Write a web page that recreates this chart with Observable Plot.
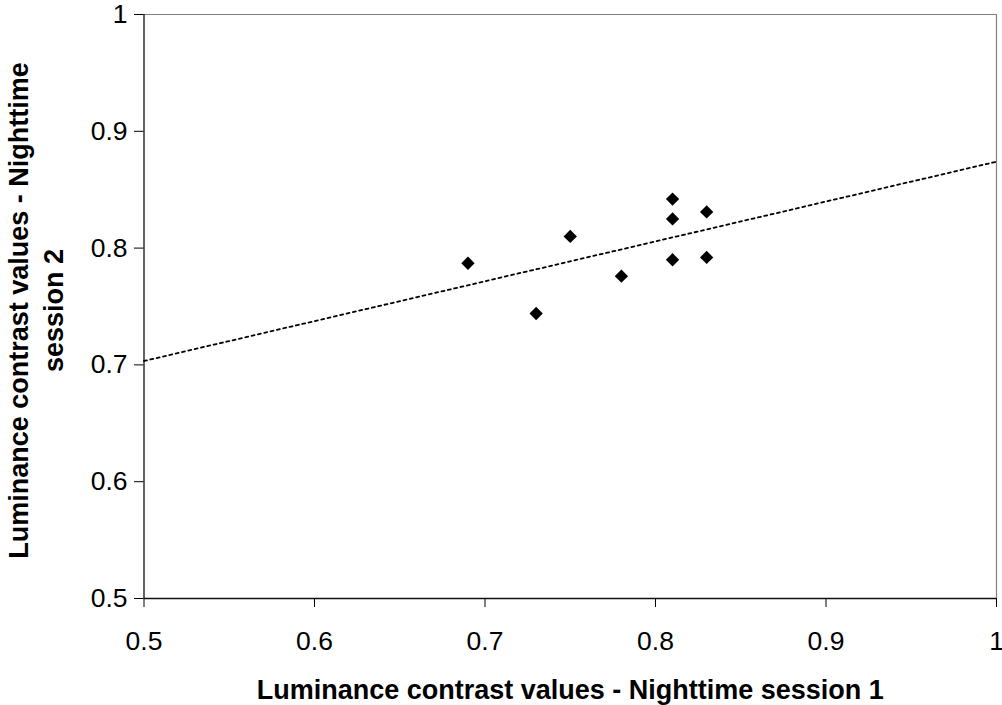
<!DOCTYPE html>
<html>
<head>
<meta charset="utf-8">
<script src="https://cdn.jsdelivr.net/npm/d3@7"></script>
<script src="https://cdn.jsdelivr.net/npm/@observablehq/plot@0.6"></script>
<style>
  html, body { margin: 0; padding: 0; background: #fff; }
  #chart svg { display: block; font-family: "Liberation Sans", Arial, sans-serif; }
</style>
</head>
<body>
<div id="chart"></div>
<script>
// Luminance contrast measured in two nighttime sessions
const session1 = [0.69, 0.73, 0.75, 0.78, 0.81, 0.81, 0.81, 0.83, 0.83];
const session2 = [0.787, 0.744, 0.81, 0.776, 0.842, 0.825, 0.79, 0.831, 0.792];

const xTicks = [0.5, 0.6, 0.7, 0.8, 0.9, 1];
const yTicks = [0.5, 0.6, 0.7, 0.8, 0.9, 1];
const axisDomain = [0.5, 1];

const xTitle = "Luminance contrast values - Nighttime session 1";
const yTitle = "Luminance contrast values - Nighttime\nsession 2";

const points = session1.map((x, i) => ({x, y: session2[i]}));

// Least-squares trend line, drawn across the whole x domain
const mx = d3.mean(session1), my = d3.mean(session2);
const slope = d3.sum(points, d => (d.x - mx) * (d.y - my)) /
              d3.sum(points, d => (d.x - mx) ** 2);
const trend = axisDomain.map(x => ({x, y: my + slope * (x - mx)}));

const fmt = d => (d === 1 ? "1" : d.toFixed(1));

const chart = Plot.plot({
  width: 1002,
  height: 705,
  marginLeft: 143.5,
  marginRight: 6,
  marginTop: 14,
  marginBottom: 107,
  x: {domain: axisDomain},
  y: {domain: axisDomain},
  marks: [
    // plot-area frame: grey top/right edges
    Plot.ruleY([1], {stroke: "#808080", strokeWidth: 1.2}),
    Plot.ruleX([1], {stroke: "#808080", strokeWidth: 1.2}),
    Plot.axisX({
      ticks: xTicks, tickFormat: fmt, tickSize: 9, tickPadding: 23.5,
      fontSize: 26.5, stroke: "#000", strokeOpacity: 1, color: "#000", label: null
    }),
    Plot.axisY({
      ticks: yTicks, tickFormat: fmt, tickSize: 9.5, tickPadding: 7,
      fontSize: 26.5, stroke: "#000", strokeOpacity: 1, color: "#000", label: null
    }),
    Plot.ruleX([0.5], {stroke: "#111", strokeWidth: 1.3}),
    Plot.ruleY([0.5], {stroke: "#111", strokeWidth: 1.3}),
    Plot.line(trend, {
      x: "x", y: "y", stroke: "#000", strokeWidth: 1.8, strokeDasharray: "3,3.5"
    }),
    Plot.dot(points, {
      x: "x", y: "y", symbol: "diamond2", r: 6, fill: "#000", stroke: "none"
    }),
    Plot.text([xTitle], {
      frameAnchor: "bottom", dy: 91.4, fontSize: 27, fontWeight: "bold",
      fill: "#000", lineAnchor: "middle", textAnchor: "middle"
    }),
    Plot.text([yTitle], {
      frameAnchor: "left", dx: -109.6, dy: 4, rotate: -90, fontSize: 27, fontWeight: "bold",
      fill: "#000", lineAnchor: "middle", textAnchor: "middle", lineHeight: 1.3
    })
  ]
});

document.getElementById("chart").appendChild(chart);
</script>
</body>
</html>
